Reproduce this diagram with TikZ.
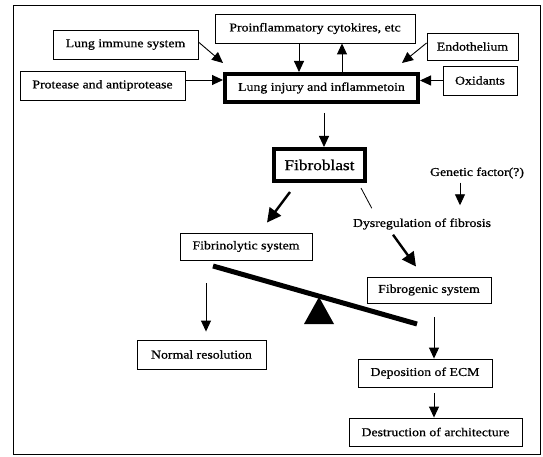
\documentclass[tikz,border=0pt]{standalone}
\usepackage{fontspec}
\setmainfont[FakeStretch=1.15, FakeBold=0.8]{Liberation Serif}
\usetikzlibrary{arrows.meta, calc}

\begin{document}
\begin{tikzpicture}[
    x=1pt, y=-1pt,
    every node/.style={font=\fontsize{12}{14}\selectfont, inner sep=0pt},
    pbox/.style={draw, line width=0.9pt},
    hbox/.style={draw, line width=4pt},
    tag/.style={inner sep=2pt},
    arr/.style={line width=0.9pt, -{Triangle[length=11pt, width=10pt]}},
    barr/.style={line width=2.4pt, -{Triangle[length=14pt, width=14pt]}},
]
\useasboundingbox (0,0) rectangle (543,457);
\draw[line width=0.8pt] (13,5) rectangle (540,454);

% sources
\node[pbox, minimum width=200pt, minimum height=29pt] (cytokine) at (315,28.5) {Proinflammatory cytokires, etc};
\node[pbox, minimum width=145pt, minimum height=29pt] (immune) at (125.5,44.5) {Lung immune system};
\node[pbox, minimum width=91pt, minimum height=27pt] (endo) at (472.5,46.5) {Endothelium};
\node[pbox, minimum width=165pt, minimum height=29pt] (protease) at (102.5,85.5) {Protease and antiprotease};
\node[pbox, minimum width=74pt, minimum height=29pt] (oxid) at (480,80.5) {Oxidants};
\node[hbox, minimum width=193pt, minimum height=28pt] (injury) at (321.5,88) {Lung injury and inflammetoin};

% fibroblast
\node[hbox, minimum width=91pt, minimum height=32pt, font=\fontsize{15}{17}\selectfont] (fibro) at (319.5,165) {Fibroblast};
\node[tag] (genetic) at (477,173) {Genetic factor(?)};
\node[tag] (dysreg) at (422,224) {Dysregulation of fibrosis};
\node[pbox, minimum width=132pt, minimum height=27pt] (lytic) at (246,246.5) {Fibrinolytic system};
\node[pbox, minimum width=124pt, minimum height=26pt] (genic) at (429,290) {Fibrogenic system};

% outcomes
\node[pbox, minimum width=129pt, minimum height=29pt] (normal) at (201.5,354.5) {Normal resolution};
\node[pbox, minimum width=134pt, minimum height=28pt] (ecm) at (425,373) {Deposition of ECM};
\node[pbox, minimum width=173pt, minimum height=28pt] (ruin) at (435.5,432) {Destruction of architecture};

\draw[arr] ($(immune.east)+(0,-2.5)$) -- ($(injury.north west)+(0,-9)$);
\draw[arr] ($(protease.east)+(0,-5.5)$) -- ($(injury.west)+(0,-8)$);
\draw[arr] ($(cytokine.south)+(-16,0)$) -- ($(injury.north)+(-22.5,0)$);
\draw[arr] ($(injury.north)+(20.5,0)$) -- ($(cytokine.south)+(27,0)$);
\draw[arr] ($(endo.west)+(0,-3.5)$) -- ($(injury.north east)+(-18,-9)$);
\draw[arr] (oxid.west) -- ($(injury.east)+(0,-7.5)$);
\draw[arr] ($(injury.south)+(2.5,9)$) -- ($(fibro.north)+(4.5,0)$);

\draw[barr] ($(fibro.south west)+(18,9)$) -- ($(lytic.north)+(21,-10)$);
\draw[line width=0.8pt] ($(fibro.south east)+(-6,5)$) -- ($(dysreg.north west)+(21,-8)$);
\draw[arr] ($(genetic.south)+(-17,2)$) -- ($(dysreg.north)+(38,-11)$);
\draw[barr] ($(dysreg.south)+(-29,3)$) -- ($(genic.north)+(-13,-10)$);

% balance
\coordinate (beamL) at (213,266);
\coordinate (beamR) at (417,324);
\draw[line width=5pt] (beamL) -- (beamR);
\fill (319,297) -- (334,324) -- (304,324) -- cycle;

\coordinate (nsrc) at (206,283);
\coordinate (esrc) at (434,317);
\draw[arr] (nsrc) -- ($(normal.north)+(4.5,-8)$);
\draw[arr] (esrc) -- (esrc |- ecm.north);
\draw[arr] ($(ecm.south)+(9,6)$) -- ($(ruin.north)+(-1.5,0)$);

\end{tikzpicture}
\end{document}
